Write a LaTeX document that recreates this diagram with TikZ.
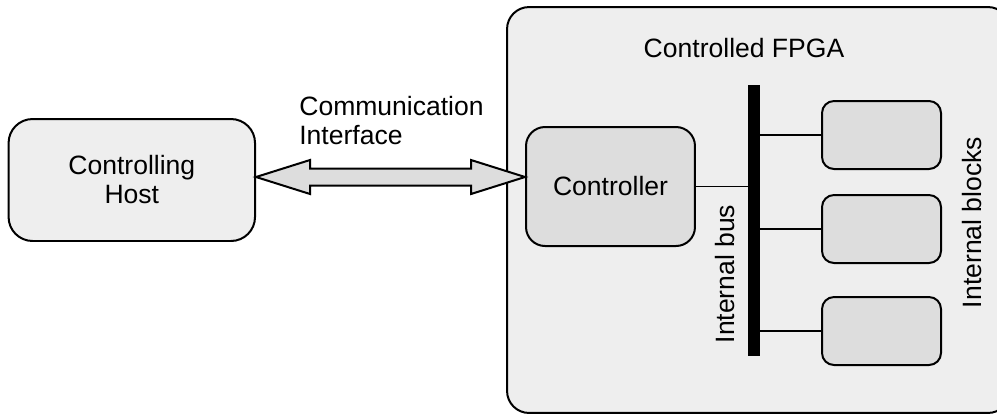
\documentclass[tikz,border=0pt]{standalone}
\usepackage{fontspec}
\setmainfont{Liberation Sans}
\usetikzlibrary{calc}
\definecolor{boxlight}{gray}{0.933}
\definecolor{boxdark}{gray}{0.867}

\begin{document}
\begin{tikzpicture}[x=0.02cm,y=-0.02cm,font=\fontsize{15.1}{16.5}\selectfont,
  rbox/.style={draw=black,line width=0.04cm,inner sep=0pt},
  wire/.style={draw=black,line width=0.03cm}]
\useasboundingbox (0,0) rectangle (997,414);
\clip (0,0) rectangle (997,414);
\node [rbox, fill=boxlight, rounded corners=0.44cm, minimum width=10.06cm, minimum height=8.12cm] (fpga) at (758.5,210) {};
\node (fpgalbl) at (744,48.5) {Controlled FPGA};
\node [rbox, fill=boxlight, rounded corners=0.48cm, minimum width=4.93cm, minimum height=2.44cm, align=center] (host) at (131.8,180) {Controlling\\Host};
\node [rbox, fill=boxdark, rounded corners=0.38cm, minimum width=3.38cm, minimum height=2.38cm] (ctrl) at (610.5,186.5) {Controller};
\node [fill=black, inner sep=0pt, minimum width=0.24cm, minimum height=5.42cm] (bus) at (754,220.5) {};
\node [rbox, fill=boxdark, rounded corners=0.24cm, minimum width=2.38cm, minimum height=1.36cm] (blk1) at (881.5,135) {};
\node [rbox, fill=boxdark, rounded corners=0.24cm, minimum width=2.38cm, minimum height=1.36cm] (blk2) at (881.5,229) {};
\node [rbox, fill=boxdark, rounded corners=0.24cm, minimum width=2.38cm, minimum height=1.36cm] (blk3) at (881.5,331) {};
\node [rotate=90] (buslbl) at (725,274) {Internal bus};
\node [rotate=90] (blkslbl) at (972,222.5) {Internal blocks};
\node [align=left] (comm) at (391.5,121) {Communication\\Interface};
% bus wiring
\draw [wire] (ctrl.east) -- (ctrl.east -| bus.west);
\draw [wire] (bus.east |- blk1.west) -- (blk1.west);
\draw [wire] (bus.east |- blk2.west) -- (blk2.west);
\draw [wire] (bus.east |- blk3.west) -- (blk3.west);
% host <-> controller link
\coordinate (al) at ($(host.east)+(0,-3)$);
\coordinate (ar) at (al -| ctrl.west);
\draw [line width=0.04cm, fill=boxdark, line join=miter] (al) -- ($(al)+(54,-17)$) -- ($(al)+(54,-8.5)$) -- ($(ar)+(-54,-8.5)$) -- ($(ar)+(-54,-17)$) -- (ar) -- ($(ar)+(-54,17)$) -- ($(ar)+(-54,8.5)$) -- ($(al)+(54,8.5)$) -- ($(al)+(54,17)$) -- cycle;
\end{tikzpicture}
\end{document}
